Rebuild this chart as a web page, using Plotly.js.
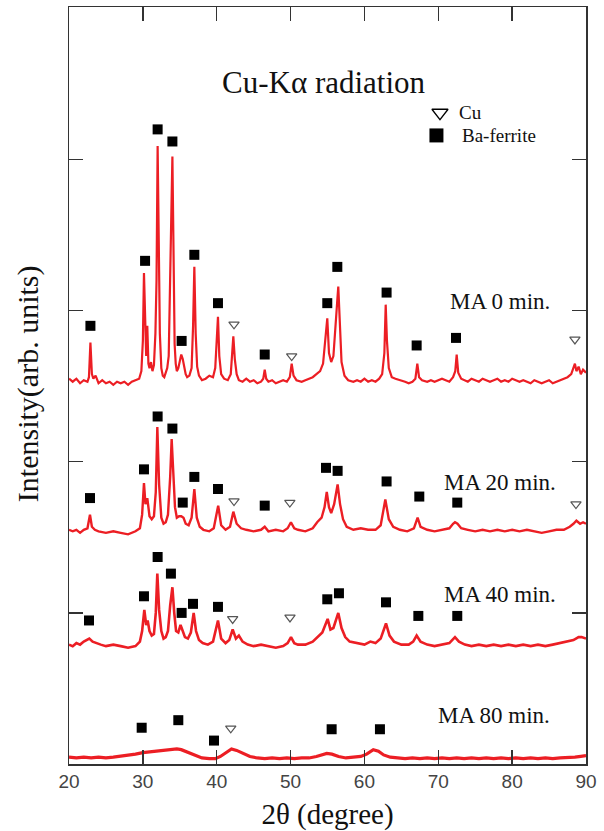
<!DOCTYPE html>
<html>
<head>
<meta charset="utf-8">
<script src="https://cdn.plot.ly/plotly-3.0.1.min.js"></script>
<style>html,body{margin:0;padding:0;background:#fff;}#chart{width:604px;height:831px;}</style>
</head>
<body>
<div id="chart"></div>
<script>
// ---- MA 0 min. pattern ----
const ma0X = [20,20.5,21,21.5,22,22.5,22.7,22.9,23.1,23.3,23.6,24,24.5,25,25.5,26,26.5,27,27.5,28,28.5,29,29.5,29.8,30.0,30.15,30.3,30.45,30.6,30.75,30.9,31.1,31.3,31.5,31.7,31.85,32.0,32.15,32.3,32.5,32.7,32.9,33.1,33.3,33.5,33.7,33.85,34.0,34.15,34.3,34.45,34.6,34.8,35.0,35.2,35.4,35.6,35.8,36.0,36.3,36.6,36.8,36.97,37.15,37.35,37.6,38,38.5,39,39.5,39.8,40.0,40.17,40.35,40.6,41,41.5,41.9,42.1,42.25,42.45,42.7,43,43.5,44,44.5,45,45.5,46,46.3,46.5,46.7,47,47.5,48,48.5,49,49.5,49.9,50.15,50.4,50.8,51.5,52,52.5,53,53.5,54,54.4,54.7,54.97,55.2,55.5,55.8,56.1,56.3,56.46,56.65,56.9,57.3,57.8,58.5,59,59.5,60,60.5,61,61.5,62,62.4,62.7,62.88,63.05,63.3,63.7,64.2,65,65.5,66,66.5,66.9,67.16,67.4,67.8,68.5,69,69.5,70,70.5,71,71.5,72,72.3,72.49,72.7,73.1,73.5,74,74.5,75,75.5,76,76.5,77,77.5,78,78.5,79,79.5,80,80.5,81,81.5,82,82.5,83,83.5,84,84.5,85,85.5,86,86.5,87,87.5,88,88.3,88.5,88.7,89,89.3,89.6,90];
const ma0Y = [2.55,2.53,2.55,2.52,2.54,2.53,2.56,2.79,2.58,2.55,2.57,2.52,2.54,2.52,2.53,2.51,2.53,2.52,2.53,2.51,2.53,2.54,2.55,2.60,2.80,3.25,2.95,2.70,2.90,2.65,2.62,2.66,2.60,2.64,2.85,3.20,4.09,3.50,2.85,2.62,2.57,2.56,2.60,2.62,2.70,3.19,3.55,4.02,3.40,2.78,2.65,2.60,2.62,2.68,2.71,2.68,2.62,2.58,2.56,2.57,2.62,2.90,3.29,2.85,2.63,2.57,2.54,2.55,2.57,2.56,2.62,2.80,2.96,2.70,2.58,2.55,2.54,2.58,2.70,2.83,2.68,2.58,2.54,2.53,2.55,2.53,2.54,2.52,2.53,2.55,2.61,2.55,2.53,2.54,2.52,2.53,2.54,2.53,2.56,2.65,2.57,2.54,2.53,2.54,2.55,2.56,2.58,2.60,2.65,2.80,2.95,2.72,2.66,2.70,2.88,3.05,3.16,2.90,2.66,2.57,2.54,2.53,2.54,2.53,2.55,2.53,2.54,2.53,2.55,2.58,2.72,3.04,2.80,2.62,2.56,2.55,2.54,2.53,2.52,2.53,2.55,2.65,2.56,2.54,2.53,2.54,2.53,2.54,2.55,2.54,2.53,2.56,2.60,2.71,2.59,2.55,2.54,2.53,2.55,2.54,2.53,2.55,2.54,2.53,2.54,2.55,2.53,2.54,2.53,2.55,2.54,2.53,2.54,2.53,2.52,2.54,2.53,2.52,2.53,2.54,2.52,2.53,2.54,2.55,2.56,2.58,2.62,2.65,2.60,2.63,2.58,2.61,2.59];

// ---- MA 20 min. pattern ----
const ma20X = [20,20.5,21,21.5,22,22.5,22.84,23.1,23.5,24,25,26,27,28,29,29.6,29.9,30.15,30.35,30.6,30.9,31.2,31.5,31.75,31.96,32.2,32.5,32.8,33.1,33.4,33.7,33.9,34.1,34.35,34.6,34.9,35.2,35.5,35.8,36.2,36.6,36.97,37.3,37.7,38.2,39,39.6,40.2,40.6,41.2,41.8,42.25,42.7,43.3,44,45,46,46.5,47,48,49,49.6,50.05,50.5,51,52,53,53.6,54.2,54.6,54.9,55.2,55.5,55.9,56.37,56.7,57.1,57.6,58.5,59.5,60.5,61.5,62.2,62.83,63.3,63.9,64.8,65.8,66.7,67.2,67.6,68.5,69.5,70.5,71.5,72.0,72.26,72.6,73.1,74,75,76,77,78,79,80,81,82,83,84,85,86,87,87.8,88.3,88.7,89.2,89.6,90];
const ma20Y = [1.55,1.54,1.55,1.53,1.55,1.56,1.65,1.57,1.55,1.54,1.53,1.54,1.53,1.52,1.54,1.56,1.65,1.86,1.72,1.76,1.64,1.62,1.64,1.80,2.23,1.85,1.63,1.59,1.60,1.65,1.90,2.15,1.95,1.70,1.63,1.64,1.64,1.63,1.59,1.58,1.63,1.82,1.63,1.57,1.55,1.54,1.56,1.71,1.58,1.55,1.57,1.67,1.59,1.56,1.55,1.54,1.55,1.57,1.54,1.55,1.54,1.56,1.60,1.56,1.55,1.54,1.56,1.60,1.63,1.70,1.80,1.70,1.66,1.72,1.85,1.72,1.62,1.57,1.55,1.56,1.55,1.55,1.58,1.75,1.62,1.57,1.55,1.54,1.56,1.63,1.57,1.55,1.54,1.55,1.56,1.59,1.60,1.59,1.56,1.55,1.54,1.55,1.54,1.55,1.54,1.55,1.54,1.55,1.54,1.53,1.54,1.55,1.55,1.57,1.59,1.61,1.59,1.60,1.59];

// ---- MA 40 min. pattern ----
const ma40X = [20,20.5,21,21.5,22,22.4,22.75,23.2,23.7,24.3,25,26,27,28,29,29.6,29.9,30.2,30.45,30.65,30.9,31.2,31.5,31.75,31.96,32.2,32.5,32.8,33.1,33.4,33.7,34.0,34.25,34.5,34.8,35.1,35.4,35.7,36.1,36.5,36.88,37.2,37.6,38.1,38.8,39.5,40.17,40.6,41.2,41.7,42.16,42.6,43.0,43.5,44.2,45,46,47,48,49,49.6,50.06,50.5,51,52,53,53.7,54.3,55.02,55.4,55.8,56.46,56.9,57.4,58,59,60,60.8,61.5,62.2,62.92,63.4,64,65,66,66.6,67.07,67.6,68.5,69.5,70.5,71.5,72.26,72.8,73.6,74.5,75.5,76.5,77.5,78.5,79.5,80.5,81.5,82.5,83.5,84.5,85.5,86.5,87.5,88.3,89,89.4,90];
const ma40Y = [0.79,0.78,0.80,0.79,0.81,0.82,0.83,0.81,0.80,0.79,0.78,0.79,0.78,0.77,0.78,0.81,0.88,1.02,0.92,0.95,0.88,0.85,0.86,1.00,1.26,1.02,0.88,0.83,0.84,0.88,1.05,1.17,1.00,0.88,0.87,0.92,0.88,0.84,0.83,0.87,1.00,0.88,0.82,0.80,0.79,0.81,0.95,0.83,0.80,0.82,0.89,0.83,0.85,0.81,0.79,0.78,0.79,0.78,0.77,0.78,0.80,0.84,0.80,0.79,0.79,0.81,0.84,0.87,0.96,0.89,0.90,1.00,0.90,0.84,0.81,0.80,0.79,0.81,0.80,0.83,0.93,0.85,0.81,0.79,0.79,0.81,0.85,0.81,0.79,0.78,0.79,0.80,0.84,0.81,0.79,0.78,0.79,0.78,0.79,0.78,0.79,0.78,0.79,0.78,0.79,0.78,0.79,0.80,0.81,0.82,0.84,0.84,0.83];

// ---- MA 80 min. pattern ----
const ma80X = [20,21,22,23,24,25,26,27,28,29,30,31,32,33,34,34.6,35.2,36,37,38,39,39.8,40.5,41.3,42.0,42.7,43.5,44.5,45.5,46.5,47.5,48.5,49.5,50.5,51.5,52.5,53.5,54.3,54.9,55.6,56.5,57.5,58.5,59.5,60.3,61.2,61.9,62.6,63.5,64.5,65.5,66.5,67.5,68.5,69.5,70.5,71.5,72.5,73.5,74.5,75.5,76.5,77.5,78.5,79.5,80.5,81.5,82.5,83.5,84.5,85.5,86.5,87.5,88.5,89.3,90];
const ma80Y = [0.045,0.04,0.045,0.04,0.045,0.04,0.045,0.05,0.055,0.065,0.075,0.08,0.085,0.09,0.095,0.10,0.095,0.08,0.06,0.04,0.035,0.035,0.05,0.075,0.10,0.09,0.07,0.05,0.04,0.035,0.04,0.035,0.04,0.035,0.04,0.04,0.05,0.06,0.07,0.065,0.05,0.04,0.045,0.05,0.065,0.095,0.085,0.06,0.045,0.04,0.035,0.04,0.035,0.04,0.035,0.04,0.035,0.04,0.035,0.04,0.035,0.04,0.035,0.04,0.035,0.04,0.035,0.04,0.035,0.04,0.035,0.04,0.04,0.045,0.05,0.055];

// ---- Ba-ferrite peak marks (filled squares) ----
const baX = [22.9,30.3,32.0,34.0,35.25,36.97,40.17,46.5,54.97,56.33,63.0,67.07,72.4,
             22.84,30.15,32.0,34.0,35.4,36.97,40.17,46.5,54.8,56.37,63.0,67.43,72.57,
             22.71,30.15,32.0,33.8,35.25,36.79,40.17,54.97,56.55,62.92,67.3,72.57,
             29.84,34.8,39.63,55.56,62.1];
const baY = [2.90,3.33,4.20,4.12,2.80,3.37,3.05,2.71,3.05,3.29,3.12,2.77,2.82,
             1.76,1.95,2.30,2.22,1.73,1.90,1.82,1.71,1.96,1.94,1.87,1.77,1.73,
             0.95,1.11,1.37,1.26,1.00,1.06,1.04,1.09,1.13,1.07,0.98,0.98,
             0.24,0.29,0.155,0.23,0.23];

// ---- Cu peak marks (open down triangles) ----
const cuX = [42.34,50.15,88.5, 42.34,49.9,88.64, 42.16,49.92, 41.9];
const cuY = [2.91,2.70,2.81, 1.74,1.73,1.72, 0.96,0.97, 0.236];

// ---- labels ----
const sampleLabels = ["MA 0 min.","MA 20 min.","MA 40 min.","MA 80 min."];
const sampleLabelX = [78.3,78.35,78.35,77.6];
const sampleLabelY = [3.06,1.86,1.12,0.32];
const xTicks = [20,30,40,50,60,70,80,90];
const yTicks = [1,2,3,4];

const serif = "Liberation Serif, Times New Roman, serif";
const red = "rgb(236,30,36)";

function patternTrace(x, y, w) {
  return {x: x, y: y, type: "scatter", mode: "lines",
          line: {color: red, width: w}, hoverinfo: "skip", showlegend: false};
}

const traces = [
  patternTrace(ma0X, ma0Y, 2.2),
  patternTrace(ma20X, ma20Y, 2.4),
  patternTrace(ma40X, ma40Y, 2.6),
  patternTrace(ma80X, ma80Y, 3.2),
  {x: baX, y: baY, type: "scatter", mode: "markers", showlegend: false,
   marker: {symbol: "square", size: 10, color: "#000"}},
  {x: cuX, y: cuY, type: "scatter", mode: "markers", showlegend: false,
   marker: {symbol: "triangle-down-open", size: 9, color: "#555", line: {width: 1.2, color: "#555"}}},
  // legend keys
  {x: [70.23], y: [4.31], type: "scatter", mode: "markers", showlegend: false,
   marker: {symbol: "triangle-down-open", size: 14, color: "#000", line: {width: 1.3, color: "#000"}}},
  {x: [69.75], y: [4.16], type: "scatter", mode: "markers", showlegend: false,
   marker: {symbol: "square", size: 14, color: "#000"}}
];

const annotations = [
  {x: 54.5, y: 4.51, xref: "x", yref: "y", text: "Cu-K\u03b1 radiation", showarrow: false,
   font: {family: serif, size: 31, color: "#111"}},
  {x: 72.6, y: 4.31, xref: "x", yref: "y", text: "Cu", showarrow: false, xanchor: "left",
   font: {family: serif, size: 19, color: "#111"}},
  {x: 72.9, y: 4.16, xref: "x", yref: "y", text: "Ba-ferrite", showarrow: false, xanchor: "left",
   font: {family: serif, size: 19, color: "#111"}},
  {x: -0.079, y: 0.502, xref: "paper", yref: "paper", xanchor: "center", yanchor: "middle",
   text: "Intensity(arb. units)", showarrow: false,
   textangle: -90, font: {family: serif, size: 30, color: "#111"}}
];
for (let i = 0; i < sampleLabels.length; i++) {
  annotations.push({x: sampleLabelX[i], y: sampleLabelY[i], xref: "x", yref: "y",
    text: sampleLabels[i], showarrow: false, font: {family: serif, size: 23, color: "#111"}});
}

const layout = {
  width: 604, height: 831,
  margin: {l: 69, r: 18, t: 7, b: 67},
  paper_bgcolor: "#fff", plot_bgcolor: "#fff",
  showlegend: false,
  xaxis: {range: [20, 90], tickvals: xTicks, ticks: "inside", ticklen: 14, tickwidth: 1.3,
          tickcolor: "#333", mirror: "ticks", showline: true, linecolor: "#333", linewidth: 1.5,
          showgrid: false, zeroline: false,
          tickfont: {family: "Liberation Sans, Arial, sans-serif", size: 19, color: "#444"},
          title: {text: "2\u03b8 (degree)", font: {family: serif, size: 29, color: "#111"}, standoff: 12}},
  yaxis: {range: [0, 5.01], tickvals: yTicks, showticklabels: false, ticks: "inside", ticklen: 14,
          tickwidth: 1.3, tickcolor: "#333", mirror: "ticks", showline: true, linecolor: "#333",
          linewidth: 1.5, showgrid: false, zeroline: false},
  annotations: annotations
};

Plotly.newPlot("chart", traces, layout, {displayModeBar: false, staticPlot: true});
</script>
</body>
</html>
